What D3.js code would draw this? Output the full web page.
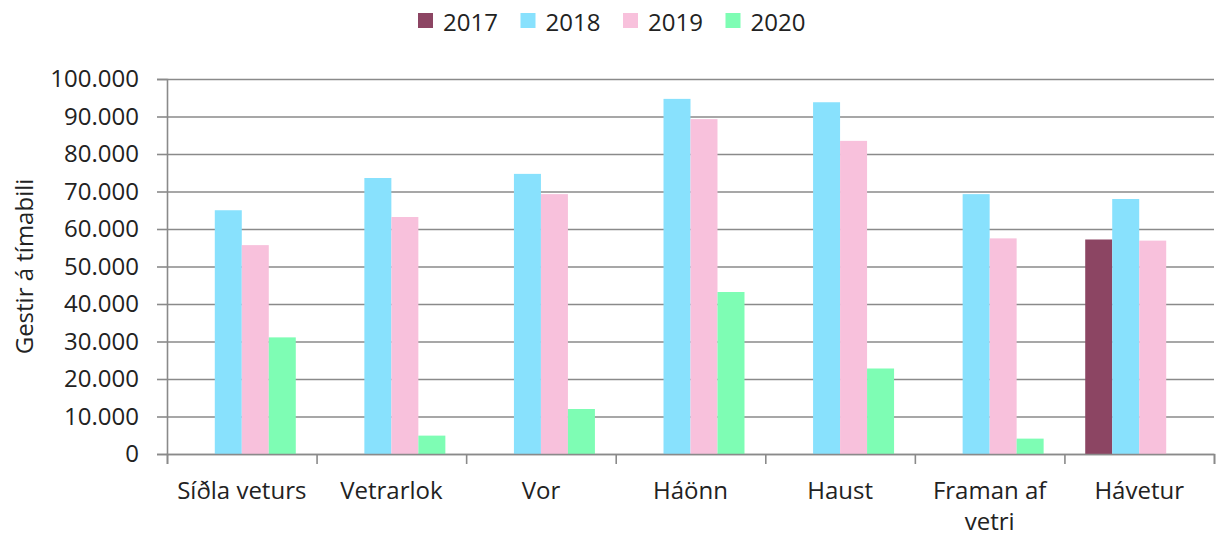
<!DOCTYPE html>
<html>
<head>
<meta charset="utf-8">
<script src="https://cdn.jsdelivr.net/npm/d3@7"></script>
<style>
  body { margin: 0; background: #fff; }
  text { font-family: "Open Sans", sans-serif; fill: #222; }
</style>
</head>
<body>
<div id="chart-area"></div>
<script>
// data
var categories = ["Síðla veturs", "Vetrarlok", "Vor", "Háönn", "Haust", "Framan af vetri", "Hávetur"];
var years = ["2017", "2018", "2019", "2020"];
var values2017 = [null, null, null, null, null, null, 57200];
var values2018 = [65000, 73600, 74700, 94700, 93800, 69300, 68000];
var values2019 = [55700, 63200, 69300, 89300, 83500, 57500, 56900];
var values2020 = [31100, 4900, 12000, 43200, 22800, 4100, null];
var yTicks = [0, 10000, 20000, 30000, 40000, 50000, 60000, 70000, 80000, 90000, 100000];
var yLabel = "Gestir á tímabili";

var colors = ["#8c4563", "#88e1fd", "#f8c1dc", "#7efdb4"];
var seriesValues = [values2017, values2018, values2019, values2020];

// margins and size
var margin = { top: 79, left: 167, bottom: 83, right: 7 };
var svgWidth = 1221;
var svgHeight = 537;
var width = svgWidth - margin.left - margin.right;
var height = svgHeight - margin.top - margin.bottom;

var svg = d3.select("#chart-area").append("svg")
    .attr("width", svgWidth)
    .attr("height", svgHeight);

var graph = svg.append("g")
    .attr("transform", "translate(" + margin.left + "," + margin.top + ")");

// scales
var x0 = d3.scaleBand()
    .domain(categories)
    .range([0, width])
    .paddingInner(0.278)
    .paddingOuter(0.139);

var x1 = d3.scaleBand()
    .domain(years)
    .range([0, x0.bandwidth()]);

var y = d3.scaleLinear()
    .domain([0, 100000])
    .range([height, 0]);

var color = d3.scaleOrdinal().domain(years).range(colors);

var locale = d3.formatLocale({ decimal: ",", thousands: ".", grouping: [3], currency: ["", ""] });
var fmt = locale.format(",d");

// gridlines
graph.append("g")
    .attr("class", "grid")
    .call(d3.axisLeft(y).tickValues(yTicks).tickSize(-width).tickFormat(""))
    .call(g => g.select(".domain").remove())
    .selectAll("line")
    .attr("stroke", "#8a8a8a")
    .attr("stroke-width", 1.6);

// y axis
var yAxis = graph.append("g")
    .attr("class", "y-axis")
    .call(d3.axisLeft(y).tickValues(yTicks).tickSize(10).tickPadding(18).tickFormat(fmt));
yAxis.select(".domain").attr("stroke", "#8a8a8a").attr("stroke-width", 1.6);
yAxis.selectAll("line").attr("stroke", "#8a8a8a").attr("stroke-width", 1.6);
yAxis.selectAll("text")
    .attr("font-family", "Open Sans")
    .attr("font-size", "24px")
    .attr("fill", "#222");

// y label
graph.append("text")
    .attr("transform", "translate(" + (23 - margin.left) + "," + height / 2 + ") rotate(-90)")
    .attr("text-anchor", "middle")
    .attr("dominant-baseline", "central")
    .attr("font-size", "24px")
    .text(yLabel);

// bars
var groups = graph.append("g")
    .attr("class", "bars")
    .selectAll("g")
    .data(categories)
    .enter()
    .append("g")
    .attr("transform", d => "translate(" + x0(d) + ",0)");

groups.selectAll("rect")
    .data((d, i) => years.map((yr, k) => ({ year: yr, value: seriesValues[k][i] })).filter(v => v.value != null))
    .enter()
    .append("rect")
    .attr("x", d => x1(d.year))
    .attr("width", x1.bandwidth())
    .attr("y", d => y(d.value))
    .attr("height", d => height - y(d.value))
    .attr("fill", d => color(d.year));

// x axis: boundary ticks
var xIdx = d3.scaleLinear().domain([0, categories.length]).range([0, width]);
var xAxis = graph.append("g")
    .attr("class", "x-axis")
    .attr("transform", "translate(0," + height + ")")
    .call(d3.axisBottom(xIdx).tickValues(d3.range(categories.length + 1)).tickSize(10).tickFormat(""));
xAxis.select(".domain").attr("stroke", "#8a8a8a").attr("stroke-width", 1.6);
xAxis.selectAll("line").attr("stroke", "#8a8a8a").attr("stroke-width", 1.6);

// x labels, wrapped to the band step
var step = x0.step();
var xLabels = graph.append("g")
    .attr("class", "x-labels")
    .attr("transform", "translate(0," + height + ")")
    .selectAll("text")
    .data(categories)
    .enter()
    .append("text")
    .attr("x", d => x0(d) + x0.bandwidth() / 2)
    .attr("y", 45)
    .attr("text-anchor", "middle")
    .attr("font-size", "24px");

xLabels.each(function(d) {
    var t = d3.select(this);
    var words = d.split(" ");
    var line = [];
    var tspan = t.append("tspan").attr("x", t.attr("x")).attr("dy", 0);
    words.forEach(w => {
        line.push(w);
        tspan.text(line.join(" "));
        if (tspan.node().getComputedTextLength() > step - 4 && line.length > 1) {
            line.pop();
            tspan.text(line.join(" "));
            line = [w];
            tspan = t.append("tspan").attr("x", t.attr("x")).attr("dy", 31).text(w);
        }
    });
});

// legend
var legend = svg.append("g")
    .attr("class", "legend")
    .attr("transform", "translate(418,13)");

var items = legend.selectAll("g")
    .data(years)
    .enter()
    .append("g")
    .attr("transform", (d, i) => "translate(" + i * 102.5 + ",0)");

items.append("rect")
    .attr("width", 15)
    .attr("height", 15)
    .attr("fill", d => color(d));

items.append("text")
    .attr("x", 25)
    .attr("y", 8)
    .attr("dominant-baseline", "central")
    .attr("font-size", "24px")
    .text(d => d);
</script>
</body>
</html>
